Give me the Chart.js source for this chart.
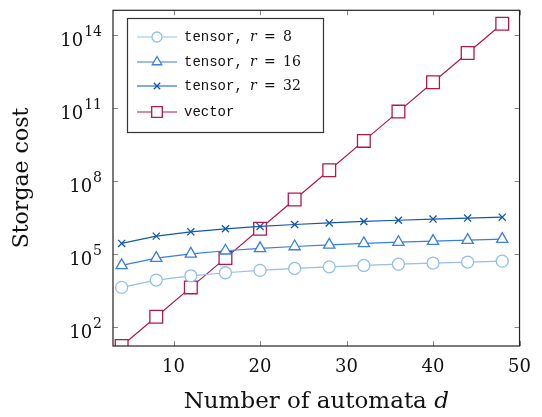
<!DOCTYPE html>
<html>
<head>
<meta charset="utf-8">
<script src="https://cdn.jsdelivr.net/npm/chart.js@4.4.1/dist/chart.umd.min.js"></script>
<style>
  html, body { margin: 0; padding: 0; background: #fff; }
  #wrap { position: relative; width: 542px; height: 417px; }
</style>
</head>
<body>
<div id="wrap"><canvas id="storageChart" width="542" height="417"></canvas></div>
<script>
// values
const automata = [4, 8, 12, 16, 20, 24, 28, 32, 36, 40, 44, 48];
const tensorR8 = [4096, 8192, 12288, 16384, 20480, 24576, 28672, 32768, 36864, 40960, 45056, 49152];
const tensorR16 = [32768, 65536, 98304, 131072, 163840, 196608, 229376, 262144, 294912, 327680, 360448, 393216];
const tensorR32 = [262144, 524288, 786432, 1048576, 1310720, 1572864, 1835008, 2097152, 2359296, 2621440, 2883584, 3145728];
const vectorCost = [16, 256, 4096, 65536, 1048576, 16777216, 268435456, 4294967296, 68719476736, 1099511627776, 17592186044416, 281474976710656];
const xTicks = [10, 20, 30, 40, 50];
const yTickExps = [2, 5, 8, 11, 14];
const seriesNames = ['tensor, r = 8', 'tensor, r = 16', 'tensor, r = 32', 'vector'];

const SERIF = '"DejaVu Serif", "Liberation Serif", serif';
const MONO = '"Liberation Mono", "DejaVu Sans Mono", monospace';

const toPoints = (ys) => automata.map((x, i) => ({ x: x, y: ys[i] }));

const colors = ['#93bfe9', '#3a7fdc', '#1358a8', '#b3174e'];
const styles = ['circle', 'triangle', 'crossRot', 'rect'];
const radii = [6, 6.5, 5, 9];
const legendRadii = [5, 5.5, 4.5, 7.5];

const datasets = [tensorR8, tensorR16, tensorR32, vectorCost].map((ys, i) => ({
    label: seriesNames[i],
    data: toPoints(ys),
    borderColor: colors[i],
    backgroundColor: '#fff',
    pointStyle: styles[i],
    pointRadius: radii[i],
    pointBorderWidth: 1.3,
    pointBorderColor: colors[i],
    pointBackgroundColor: '#fff',
    borderWidth: 1.2,
    tension: 0
}));

// frame, inner ticks, y labels, titles and legend box, drawn like pgfplots
const framePlugin = {
    id: 'frame',
    afterDraw(chart) {
        const ctx = chart.ctx;
        const a = chart.chartArea;
        const xs = chart.scales.x, ys = chart.scales.y;
        ctx.save();
        ctx.strokeStyle = '#888';
        ctx.lineWidth = 1;
        const t = 5;
        xTicks.forEach(v => {
            const px = Math.round(xs.getPixelForValue(v)) + 0.5;
            ctx.beginPath();
            ctx.moveTo(px, a.bottom); ctx.lineTo(px, a.bottom - t);
            ctx.moveTo(px, a.top); ctx.lineTo(px, a.top + t);
            ctx.stroke();
        });
        ctx.fillStyle = '#111';
        ctx.textBaseline = 'alphabetic';
        yTickExps.forEach(e => {
            const yv = ys.getPixelForValue(Math.pow(10, e));
            const py = Math.round(yv) + 0.5;
            ctx.beginPath();
            ctx.moveTo(a.left, py); ctx.lineTo(a.left + t, py);
            ctx.moveTo(a.right, py); ctx.lineTo(a.right - t, py);
            ctx.stroke();
            // label 10^e
            ctx.font = '14px ' + SERIF;
            const ex = String(e);
            const ew = ctx.measureText(ex).width;
            const right = a.left - 11;
            ctx.textAlign = 'left';
            ctx.fillText(ex, right - ew, yv + 1);
            ctx.font = '18px ' + SERIF;
            const bw = ctx.measureText('10').width;
            ctx.fillText('10', right - ew - bw - 1, yv + 11);
        });
        ctx.strokeStyle = '#222';
        ctx.lineWidth = 1.2;
        ctx.strokeRect(a.left, a.top, a.right - a.left, a.bottom - a.top);

        // x title with italic d
        ctx.font = '23px ' + SERIF;
        const t1 = 'Number of automata ';
        const w1 = ctx.measureText(t1).width;
        ctx.font = 'italic 23px ' + SERIF;
        const w2 = ctx.measureText('d').width;
        const cx = (a.left + a.right) / 2;
        const x0 = cx - (w1 + w2) / 2;
        ctx.textAlign = 'left';
        ctx.textBaseline = 'middle';
        ctx.font = '23px ' + SERIF;
        ctx.fillText(t1, x0, 402);
        ctx.font = 'italic 23px ' + SERIF;
        ctx.fillText('d', x0 + w1, 402);

        // y title
        ctx.save();
        ctx.translate(22, 178);
        ctx.rotate(-Math.PI / 2);
        ctx.textAlign = 'center';
        ctx.font = '22px ' + SERIF;
        ctx.fillText('Storgae cost', 0, 0);
        ctx.restore();

        // legend
        const lx = 127, ly = 18, lw = 196, lh = 114;
        ctx.fillStyle = '#fff';
        ctx.fillRect(lx, ly, lw, lh);
        ctx.strokeStyle = '#333';
        ctx.lineWidth = 1.2;
        ctx.strokeRect(lx + 0.5, ly + 0.5, lw, lh);
        const rows = [37, 62, 86, 112];
        chart.data.datasets.forEach((ds, i) => {
            const y = rows[i];
            ctx.strokeStyle = ds.borderColor;
            ctx.lineWidth = 1.2;
            ctx.beginPath();
            ctx.moveTo(137, y); ctx.lineTo(177, y);
            ctx.stroke();
            ctx.lineWidth = 1.3;
            ctx.fillStyle = '#fff';
            Chart.helpers.drawPoint(ctx, {
                pointStyle: ds.pointStyle, radius: legendRadii[i], borderWidth: 1.3, rotation: 0
            }, 157, y);
            ctx.fillStyle = '#111';
            ctx.textBaseline = 'middle';
            ctx.textAlign = 'left';
            if (i < 3) {
                const parts = ds.label.split(' r = ');
                ctx.font = '14px ' + MONO;
                ctx.fillText(parts[0], 184, y);
                ctx.font = 'italic 14px ' + SERIF;
                ctx.fillText('r', 250, y);
                ctx.font = '14px ' + SERIF;
                ctx.fillText('=', 264, y);
                ctx.fillText(parts[1], 283, y);
            } else {
                ctx.font = '14px ' + MONO;
                ctx.fillText(ds.label, 184, y);
            }
        });
        ctx.restore();
    }
};

const ctx = document.getElementById('storageChart').getContext('2d');
new Chart(ctx, {
    type: 'line',
    data: { datasets: datasets },
    options: {
        responsive: false,
        animation: false,
        layout: { padding: { top: 5, right: 12, left: 0, bottom: 0 } },
        plugins: {
            legend: { display: false },
            tooltip: { enabled: false }
        },
        scales: {
            x: {
                type: 'linear',
                min: 3,
                max: 50,
                afterBuildTicks: (s) => { s.ticks = xTicks.map(v => ({ value: v })); },
                afterFit: (s) => { s.height = 71; },
                grid: { display: false, drawTicks: false },
                border: { display: false },
                ticks: {
                    color: '#111',
                    font: { family: SERIF, size: 18 },
                    padding: 11,
                    maxRotation: 0,
                    callback: (v) => String(v)
                }
            },
            y: {
                type: 'logarithmic',
                min: 16,
                max: 1e15,
                afterBuildTicks: (s) => { s.ticks = yTickExps.map(e => ({ value: Math.pow(10, e) })); },
                afterFit: (s) => { s.width = 113; },
                grid: { display: false, drawTicks: false },
                border: { display: false },
                ticks: { display: false }
            }
        }
    },
    plugins: [framePlugin]
});
</script>
</body>
</html>
